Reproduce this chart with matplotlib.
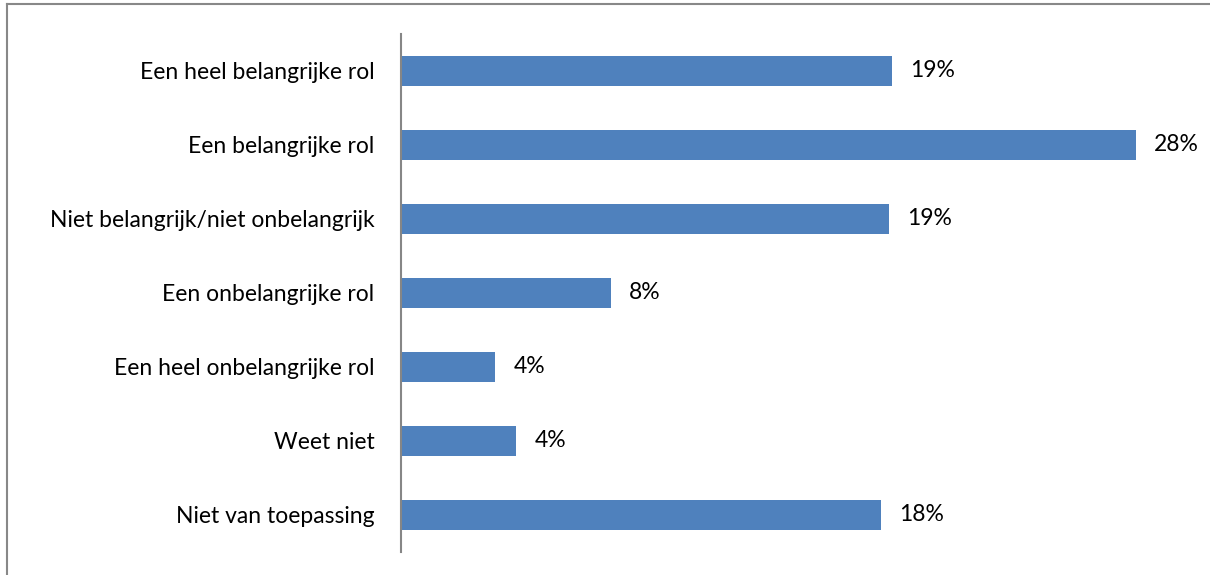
import matplotlib.pyplot as plt
from matplotlib.lines import Line2D

categories = ['Een heel belangrijke rol', 'Een belangrijke rol',
              'Niet belangrijk/niet onbelangrijk', 'Een onbelangrijke rol',
              'Een heel onbelangrijke rol', 'Weet niet', 'Niet van toepassing']
values = [18.7, 28.0, 18.6, 8.0, 3.6, 4.4, 18.3]
labels = ['19%', '28%', '19%', '8%', '4%', '4%', '18%']

plt.rcParams['font.family'] = ['Lato', 'DejaVu Sans']

fig = plt.figure(figsize=(12.1, 5.75), dpi=100)
ax = fig.add_axes([0.3314, 0.04, 0.6506, 0.9009])

pos = list(range(len(categories)))
ax.barh(pos, values, height=0.405, color='#4F81BD')
ax.set_ylim(len(categories) - 0.5, -0.5)
ax.set_xlim(0, 30)

for p, v, t in zip(pos, values, labels):
    ax.annotate(t, (v, p), xytext=(13, 0), textcoords='offset points',
                va='center', ha='left', fontsize=16.5, color='#000000')

ax.set_yticks(pos)
ax.set_yticklabels(categories, fontsize=16.5)
ax.tick_params(axis='y', length=0, pad=19)
ax.set_xticks([])
for s in ['top', 'right', 'bottom']:
    ax.spines[s].set_visible(False)
ax.spines['left'].set_color('#868686')
ax.spines['left'].set_linewidth(1.5)

# outer border (top and left only visible)
fig.add_artist(Line2D([0.006, 1.0], [0.993, 0.993], color='#888888', lw=1.5,
                      transform=fig.transFigure))
fig.add_artist(Line2D([0.006, 0.006], [0.0, 0.993], color='#888888', lw=1.5,
                      transform=fig.transFigure))

fig.savefig('out.png', dpi=100)
